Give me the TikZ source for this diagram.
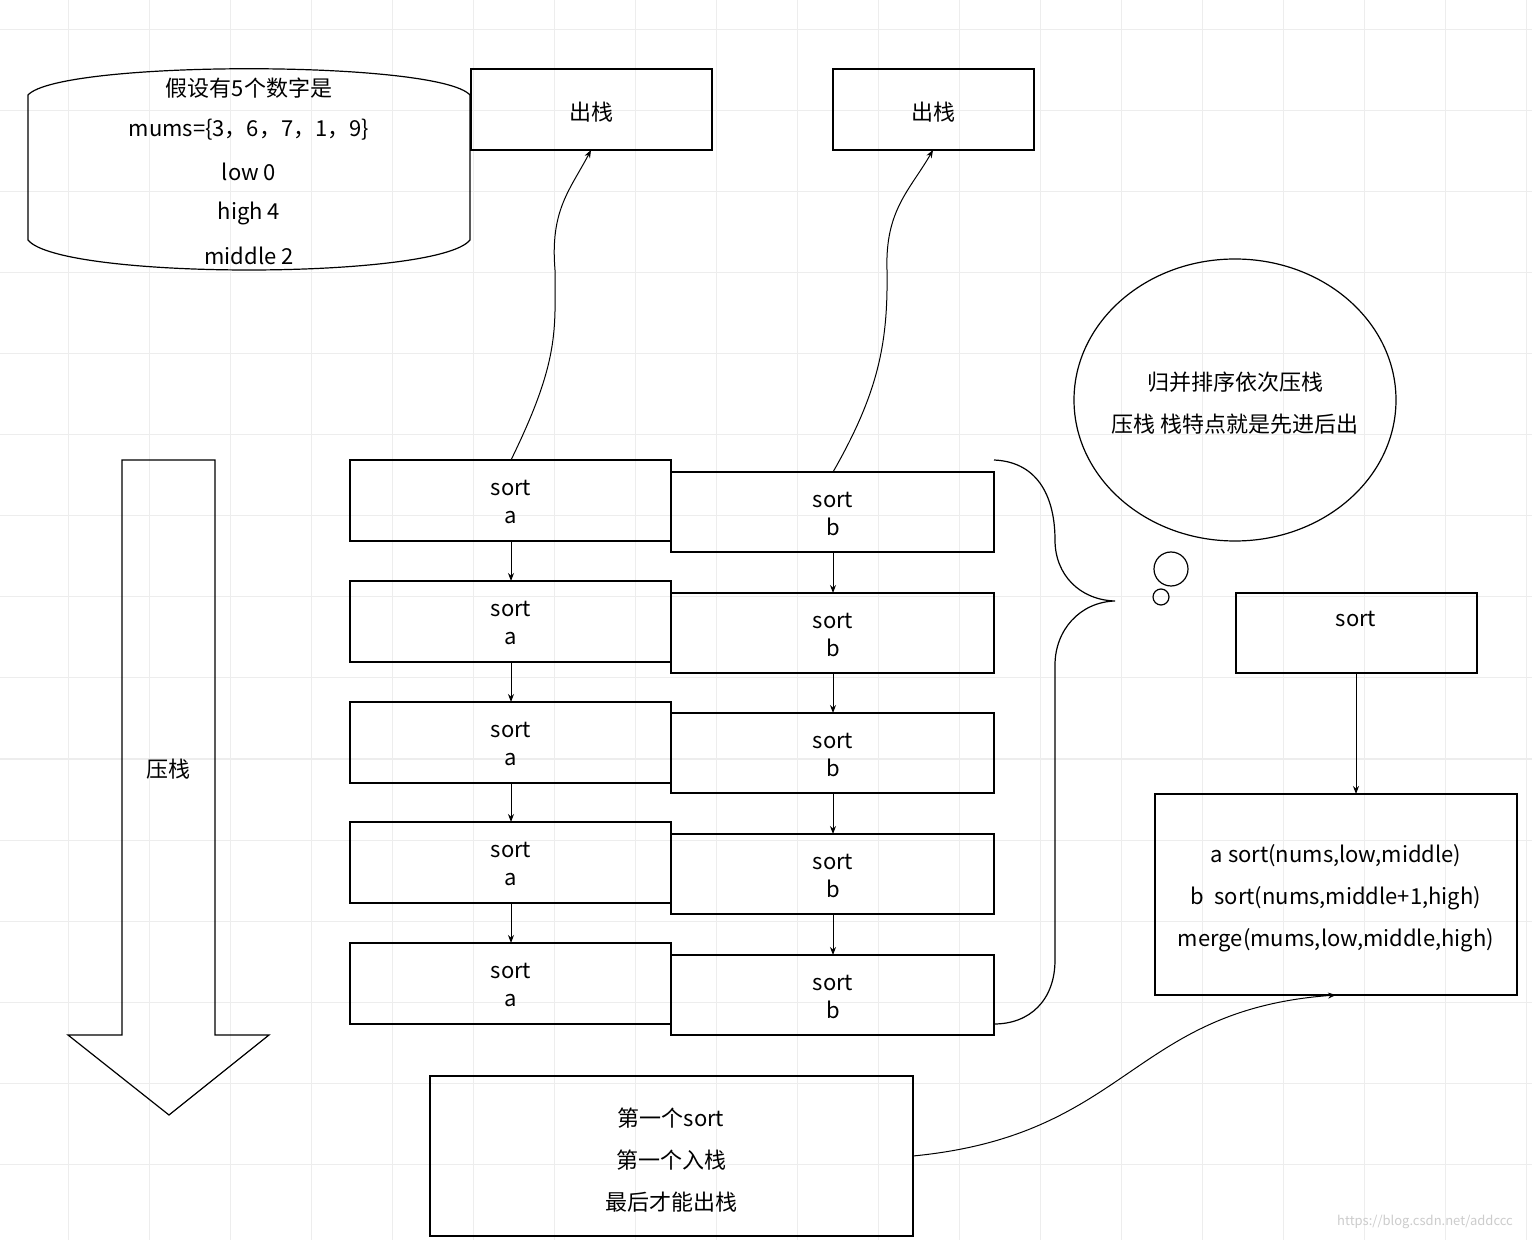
\documentclass[tikz,border=0pt]{standalone}
\usepackage{fontspec}
\setmainfont{Noto Sans CJK SC}
\usetikzlibrary{arrows.meta}
\begin{document}
\begin{tikzpicture}[x=0.5pt,y=-0.5pt,
  bx/.style={draw,line width=0.6pt},
  t/.style={font=\fontsize{11}{13}\selectfont,inner sep=0pt},
  ar/.style={-{Stealth[length=4pt,width=3pt]},line width=0.5pt}]
\useasboundingbox (0,0) rectangle (1532,1240);
\fill[white] (0,0) rectangle (1532,1240);
\foreach \x in {68,149,230,311,392,473,554,635,716,797,878,959,1040,1121,1202,1283,1364,1445,1526}
  \draw[black!7,line width=0.5pt] (\x,0) -- (\x,1240);
\foreach \y in {30,111,192,273,354,435,516,597,678,759,840,921,1002,1083,1164}
  \draw[black!7,line width=0.5pt] (0,\y) -- (1532,\y);
% cylinder
\draw[bx] (28,95) .. controls (60,60) and (438,60) .. (470,95) -- (470,240)
  .. controls (438,280) and (60,280) .. (28,240) -- cycle;
\node[t] (c1) at (249,88) {假设有5个数字是};
\node[t] (c2) at (249,130) {mums=\{3，6，7，1，9\}};
\node[t] (c3) at (249,172) {low 0};
\node[t] (c4) at (249,214) {high 4};
\node[t] (c5) at (249,256) {middle 2};
% out boxes
\draw[bx] (471,69) rectangle (712,150);
\node[t] (o1) at (591,112) {出栈};
\draw[bx] (833,69) rectangle (1034,150);
\node[t] (o2) at (933,112) {出栈};
\coordinate (o1b) at (591,150);
\coordinate (o2b) at (933,150);
% a boxes
\foreach \i/\y in {1/460,2/581,3/702,4/822,5/943}{
  \draw[bx] (350,\y) rectangle (671,\y+81);
  \node[t,align=center] (a\i) at (511,\y+42) {sort\\[1pt]a};
  \coordinate (at\i) at (511,\y);
  \coordinate (ab\i) at (511,\y+81);
}
\foreach \i/\y in {1/472,2/593,3/713,4/834,5/955}{
  \draw[bx] (671,\y) rectangle (994,\y+80);
  \node[t,align=center] (b\i) at (833,\y+42) {sort\\[1pt]b};
  \coordinate (bt\i) at (833,\y);
  \coordinate (bb\i) at (833,\y+80);
}
\foreach \i/\j in {1/2,2/3,3/4,4/5}{
  \draw[ar] (ab\i) -- (at\j);
  \draw[ar] (bb\i) -- (bt\j);
}
\draw[ar] (at1) .. controls (560,360) and (555,330) .. (555,270)
  .. controls (550,210) and (570,190) .. (o1b);
\draw[ar] (bt1) .. controls (880,390) and (888,340) .. (887,270)
  .. controls (885,210) and (910,190) .. (o2b);
% brace
\draw[line width=0.6pt] (994,460) .. controls (1040,462) and (1055,500) .. (1055,540)
  .. controls (1055,575) and (1080,600) .. (1115,601)
  .. controls (1080,602) and (1055,630) .. (1055,665) -- (1055,960)
  .. controls (1055,1000) and (1030,1024) .. (994,1024);
% thought
\draw[line width=0.6pt] (1235,400) ellipse [x radius=161, y radius=141];
\node[t] (th1) at (1235,382) {归并排序依次压栈};
\node[t] (th2) at (1235,424) {压栈 栈特点就是先进后出};
\draw[line width=0.6pt] (1171,569) circle [radius=17];
\draw[line width=0.6pt] (1161,597) circle [radius=8];
% sort box
\draw[bx] (1236,593) rectangle (1477,673);
\node[t] (s) at (1356,619) {sort};
\coordinate (sb) at (1356,673);
\coordinate (mt) at (1356,794);
\draw[ar] (sb) -- (mt);
\draw[bx] (1155,794) rectangle (1517,995);
\node[t] (m1) at (1336,856) {a sort(nums,low,middle)};
\node[t] (m2) at (1336,898) {b\ \ sort(nums,middle+1,high)};
\node[t] (m3) at (1336,940) {merge(mums,low,middle,high)};
\coordinate (mb) at (1336,995);
% bottom box
\draw[bx] (430,1076) rectangle (913,1236);
\node[t] (f1) at (671,1118) {第一个sort};
\node[t] (f2) at (671,1160) {第一个入栈};
\node[t] (f3) at (671,1202) {最后才能出栈};
\coordinate (fr) at (913,1156);
\draw[ar] (fr) .. controls (1130,1135) and (1130,1010) .. (mb);
% big arrow
\draw[line width=0.6pt] (122,460) -- (215,460) -- (215,1035) -- (269,1035) -- (169,1115)
  -- (68,1035) -- (122,1035) -- cycle;
\node[t] (p) at (168,769) {压栈};
\node[font=\fontsize{6.5}{8}\selectfont,text=black!20,inner sep=0pt] (w) at (1425,1222) {https://blog.csdn.net/addccc};
\end{tikzpicture}
\end{document}
